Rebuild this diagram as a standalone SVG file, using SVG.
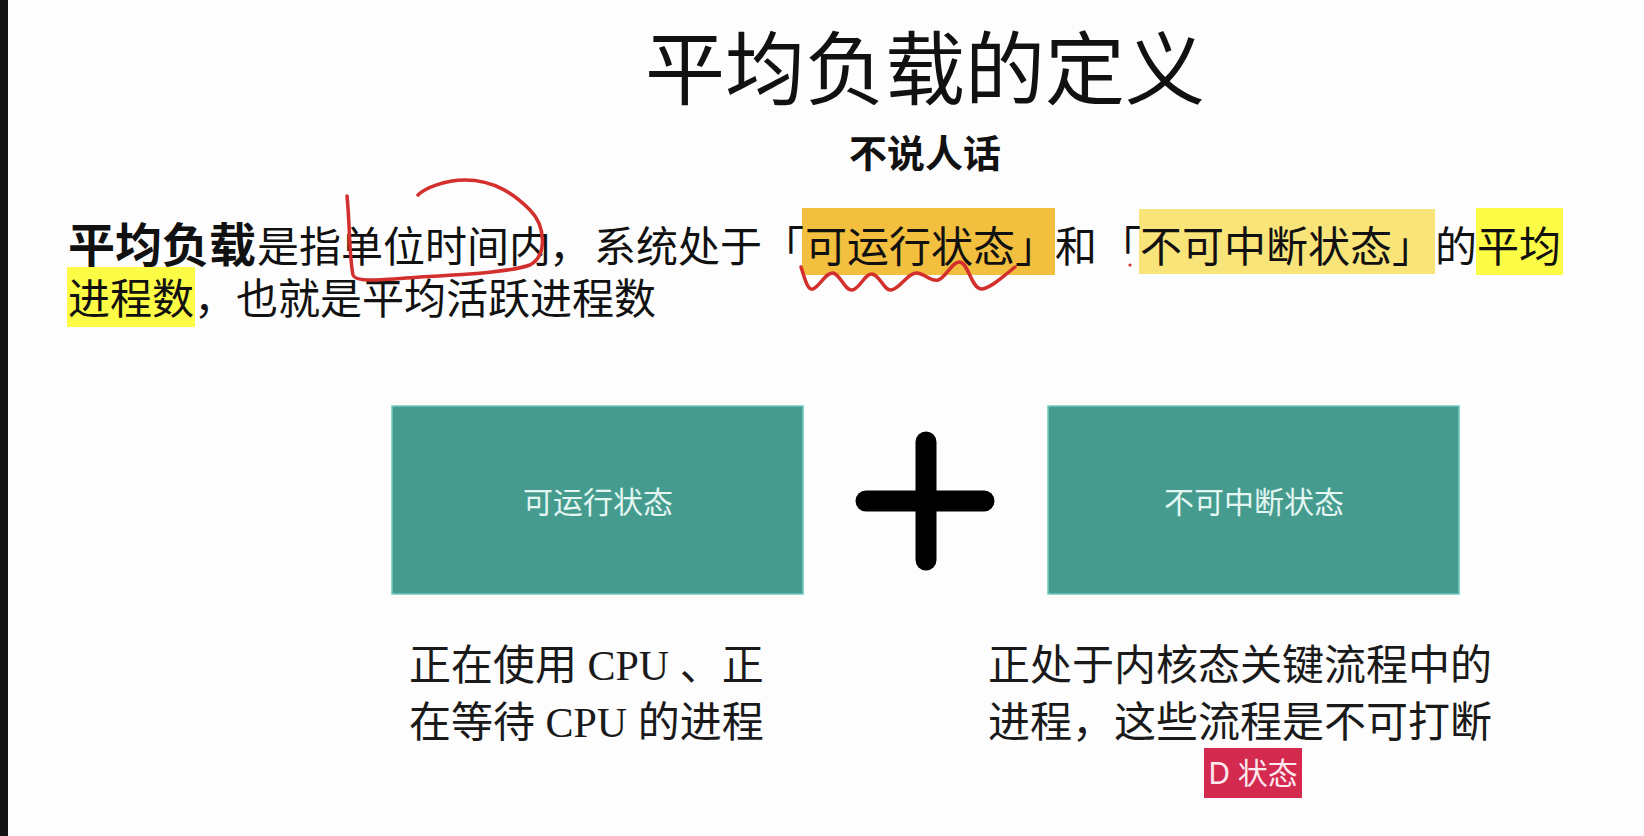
<svg xmlns="http://www.w3.org/2000/svg" width="1644" height="836" viewBox="0 0 1644 836">
  <style>
    .cjk { font-family: "Noto Sans CJK SC", "Noto Sans", sans-serif; fill: #111; }
    .para { font-family: "Liberation Serif", "Noto Sans CJK SC", serif; fill: #111; }
    .body { font-size: 42px; }
    .mixed { font-family: "Liberation Serif", "Noto Sans CJK SC", serif; font-size: 42px; fill: #1a1a1a; }
    .box { fill: #469b8f; stroke: #6fc9bc; stroke-width: 1.5; }
    .boxlabel { font-family: "Noto Sans CJK SC", "Noto Sans", sans-serif; font-size: 30px; fill: #e3f6f2; text-anchor: middle; }
    .ink { fill: none; stroke: #d32f2c; stroke-width: 3.5; stroke-linecap: round; stroke-linejoin: round; }
  </style>

  <!-- page -->
  <rect x="0" y="0" width="1644" height="836" fill="#fdfdfd"/>
  <rect x="0" y="0" width="8" height="836" fill="#141414"/>

  <!-- heading -->
  <g id="title">
    <text class="cjk" x="925" y="98" font-size="80" text-anchor="middle">平均负载的定义</text>
    <text class="cjk" x="925" y="167" font-size="38" font-weight="bold" text-anchor="middle">不说人话</text>
  </g>

  <!-- definition paragraph with highlights -->
  <g id="definition">
    <rect x="802" y="208" width="253" height="67" fill="#f3bf3e"/>
    <rect x="1139" y="209" width="296" height="65" fill="#f9e47a"/>
    <rect x="1476" y="208" width="87" height="67" fill="#fcfb45"/>
    <rect x="67" y="267" width="128" height="60" fill="#fcfb45"/>

    <text class="para" x="68" y="262" font-size="47" font-weight="bold">平均负载</text>
    <text class="para body" x="257" y="262">是指单位时间内</text>
    <text class="para body" x="549" y="262">，</text>
    <text class="para body" x="594" y="262">系统处于</text>
    <text class="para body" x="762" y="262">「</text>
    <text class="para body" x="805" y="262">可运行状态」</text>
    <text class="para body" x="1055" y="262">和</text>
    <text class="para body" x="1099" y="262">「</text>
    <text class="para body" x="1140" y="262">不可中断状态」</text>
    <text class="para body" x="1435" y="262">的</text>
    <text class="para body" x="1477" y="262">平均</text>

    <text class="para body" x="68" y="314">进程数</text>
    <text class="para body" x="194" y="314">，</text>
    <text class="para body" x="236" y="314">也就是平均活跃进程数</text>
  </g>

  <!-- hand-drawn red marks -->
  <g id="annotations">
    <path class="ink" d="M347,196 C350,225 349,255 353,275 C356,283 380,280 420,277 C470,274 510,272 530,265 C548,255 545,225 530,210 C515,195 495,180 465,180 C445,180 425,188 418,195"/>
    <path class="ink" d="M801,267 C805,280 808,291 813,289 C820,286 826,272 833,273 C840,274 845,291 852,290 C860,289 865,273 872,274 C880,275 884,291 891,290 C900,289 908,272 917,273 C926,274 930,282 938,280 C946,278 952,261 960,262 C968,263 972,289 981,289 C990,289 1005,275 1015,267"/>
    <circle cx="1130" cy="265" r="1.6" fill="#d32f2c"/>
  </g>

  <!-- state boxes -->
  <g id="runnable">
    <rect class="box" x="392" y="406" width="411" height="188"/>
    <text class="boxlabel" x="598" y="513">可运行状态</text>
  </g>

  <g id="plus">
    <line x1="926" y1="442" x2="926" y2="560" stroke="#000" stroke-width="21" stroke-linecap="round"/>
    <line x1="866" y1="501" x2="984" y2="501" stroke="#000" stroke-width="21" stroke-linecap="round"/>
  </g>

  <g id="uninterruptible">
    <rect class="box" x="1048" y="406" width="411" height="188"/>
    <text class="boxlabel" x="1254" y="513">不可中断状态</text>
  </g>

  <!-- descriptions -->
  <g id="runnable-desc">
    <text class="mixed" x="409" y="680">正在使用 CPU 、正</text>
    <text class="mixed" x="409" y="737">在等待 CPU 的进程</text>
  </g>

  <g id="uninterruptible-desc">
    <text class="mixed" x="988" y="680">正处于内核态关键流程中的</text>
    <text class="mixed" x="988" y="737">进程，这些流程是不可打断</text>
  </g>

  <g id="d-state">
    <rect x="1204" y="748" width="98" height="50" fill="#d42a50"/>
    <text x="1253" y="784" font-family="'Noto Sans', 'Noto Sans CJK SC', sans-serif" font-size="30" fill="#fbe9ee" text-anchor="middle">D 状态</text>
  </g>
</svg>
